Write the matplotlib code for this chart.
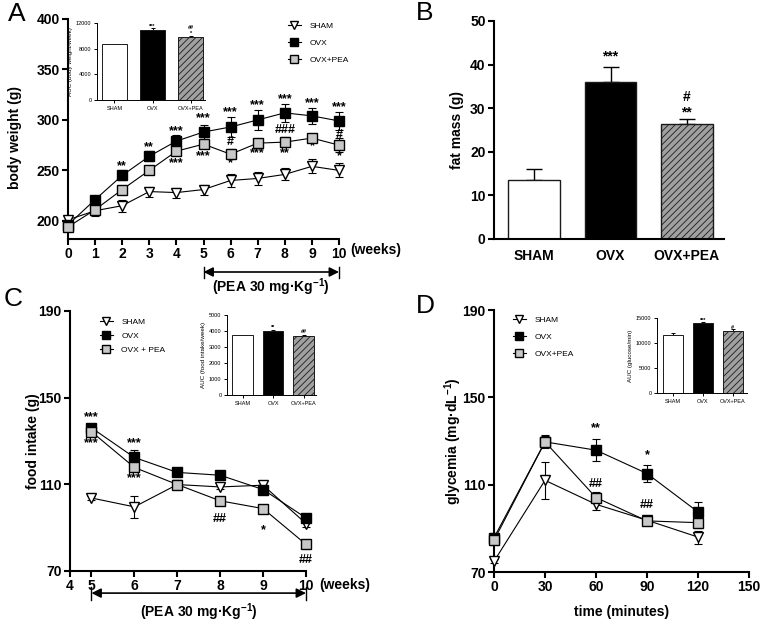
import matplotlib
matplotlib.use("Agg")
import matplotlib.pyplot as plt
from matplotlib.lines import Line2D
from matplotlib.transforms import blended_transform_factory

plt.rcParams['font.family'] = ['Liberation Sans', 'DejaVu Sans']
plt.rcParams['font.weight'] = 'bold'
plt.rcParams['axes.labelweight'] = 'bold'
plt.rcParams['mathtext.fontset'] = 'custom'
plt.rcParams['mathtext.bf'] = 'Liberation Sans:bold'
plt.rcParams['mathtext.rm'] = 'Liberation Sans:bold'
plt.rcParams['mathtext.default'] = 'bf'
plt.rcParams['hatch.linewidth'] = 0.6

groups = ["SHAM", "OVX", "OVX+PEA"]

# A: body weight
weeks_a = [0, 1, 2, 3, 4, 5, 6, 7, 8, 9, 10]
bw_sham = [201, 210, 215, 229, 228, 231, 240, 242, 246, 254, 250]
bw_sham_err = [4, 5, 6, 5, 5, 5, 6, 6, 6, 7, 7]
bw_ovx = [196, 221, 245, 264, 279, 288, 293, 300, 307, 304, 299]
bw_ovx_err = [3, 3, 5, 5, 6, 7, 10, 10, 9, 8, 9]
bw_pea = [194, 211, 231, 250, 269, 276, 266, 277, 278, 282, 275]
bw_pea_err = [3, 3, 3, 3, 3, 3, 5, 3, 5, 3, 7]
auc_bw = [8700, 10900, 9800]
auc_bw_err = [100, 250, 200]

# B: fat mass
fat = [13.5, 36.0, 26.3]
fat_err = [2.5, 3.4, 1.3]

# C: food intake
weeks_c = [5, 6, 7, 8, 9, 10]
fi_sham = [103.7, 99.6, 109.9, 108.8, 109.6, 91.9]
fi_sham_err = [0.8, 5.0, 1.0, 1.0, 2.0, 1.5]
fi_ovx = [136.1, 122.4, 115.5, 114.2, 107.6, 94.5]
fi_ovx_err = [1.5, 3.5, 1.5, 1.5, 1.5, 1.5]
fi_pea = [134.3, 117.8, 109.9, 102.4, 98.8, 82.3]
fi_pea_err = [1.5, 1.5, 1.5, 1.5, 1.0, 1.0]
auc_fi = [3730, 4000, 3690]
auc_fi_err = [30, 60, 30]

# D: glycemia
minutes = [0, 30, 60, 90, 120]
gl_sham = [74.9, 112.0, 101.0, 93.7, 86.0]
gl_sham_err = [1.0, 8.5, 2.5, 1.5, 3.0]
gl_ovx = [85.7, 129.6, 125.8, 115.1, 97.5]
gl_ovx_err = [2.0, 3.0, 5.0, 4.0, 4.5]
gl_pea = [84.5, 129.6, 104.1, 93.4, 92.6]
gl_pea_err = [2.0, 2.5, 2.5, 1.5, 2.5]
auc_gl = [11700, 14000, 12500]
auc_gl_err = [300, 250, 250]

# significance marks (x, y, text)
marks_a = [(2, 254, "**"), (3, 272.5, "**"), (4, 289, "***"), (5, 301.5, "***"),
           (6, 307.5, "***"), (7, 315, "***"), (8, 321, "***"), (9, 316.5, "***"),
           (10, 312.5, "***"),
           (4, 257, "***"), (5, 264.5, "***"), (6, 257, "*"), (7, 267, "***"),
           (8, 267.5, "**"), (9, 273.5, "*"), (10, 264.5, "*"),
           (6, 278.5, "#"), (8, 290, "###"), (10, 285, "#")]
marks_b = [(1, 41.8, "***"), (2, 32.6, "#"), (2, 29.0, "**")]
marks_c = [(5, 140.9, "***"), (5, 128.9, "***"), (6, 128.9, "***"), (6, 112.7, "***"),
           (8, 94.2, "##"), (9, 88.8, "*"), (10, 74.9, "##")]
marks_d = [(60, 135.7, "**"), (90, 123.5, "*"), (60, 110.5, "##"), (90, 100.6, "##")]
marks_ia = [(1, 11500, "***"), (2, 11350, "##"), (2, 10400, "*")]
marks_ic = [(1, 4250, "**"), (2, 3940, "##")]
marks_id = [(1, 14600, "***"), (2, 13100, "#")]

W, H = 762, 624
fig = plt.figure(figsize=(W / 100, H / 100), dpi=100)


def box(l, t, r, b):
    return [l / W, 1 - b / H, (r - l) / W, (b - t) / H]


def style(ax, lw=1.5, size=10, tl=4):
    for s in ['top', 'right']:
        ax.spines[s].set_visible(False)
    for s in ['left', 'bottom']:
        ax.spines[s].set_linewidth(lw)
    ax.tick_params(direction='out', length=tl, width=lw, labelsize=size, pad=2)


def curves(ax, x, ys, errs):
    kinds = [dict(marker='v', mfc='white'), dict(marker='s', mfc='black'),
             dict(marker='s', mfc='#c8c8c8')]
    for y, e, k in zip(ys, errs, kinds):
        ax.errorbar(x, y, yerr=e, color='black', mec='black', ms=6.5, lw=0.8,
                    elinewidth=0.8, capsize=3, capthick=0.8, clip_on=False, zorder=3, **k)


def legend(ax, labels, anchor, spacing):
    h = [Line2D([], [], color='black', lw=0.8, marker='v', mfc='white', mec='black', ms=6),
         Line2D([], [], color='black', lw=0.8, marker='s', mfc='black', mec='black', ms=6),
         Line2D([], [], color='black', lw=0.8, marker='s', mfc='#c8c8c8', mec='black', ms=6)]
    ax.legend(h, labels, loc='center left', bbox_to_anchor=anchor,
              bbox_transform=fig.transFigure, frameon=False, handlelength=1.6,
              handletextpad=1.0, labelspacing=spacing, prop={'size': 6, 'weight': 'normal'})


def bars(ax, vals, errs, lw=1.0, cap=3):
    pos = range(len(vals))
    ax.bar(pos, vals, width=0.68, color=['white', 'black', '#a0a0a0'],
           edgecolor='#1a1a1a', linewidth=lw, hatch=['', '', '/////'], zorder=2)
    ax.errorbar(pos, vals, yerr=[[0] * len(vals), errs], fmt='none', ecolor='black',
                elinewidth=lw, capsize=cap, capthick=lw, zorder=1)
    ax.set_xticks(list(pos))
    ax.set_xticklabels(groups)


def marks(ax, items, size=9):
    for x, y, t in items:
        ax.text(x, y, t, ha='center', va='center', fontsize=size, fontweight='bold',
                clip_on=False)


def inset(rect, vals, errs, top, step, ylab, items):
    ax = fig.add_axes(rect)
    bars(ax, vals, errs, lw=0.7, cap=1.5)
    style(ax, lw=0.7, size=4, tl=2)
    ax.set_ylim(0, top)
    ax.set_yticks(range(0, top + 1, step))
    for lab in ax.get_xticklabels() + ax.get_yticklabels():
        lab.set_fontweight('normal')
    ax.set_ylabel(ylab, fontsize=4.5, fontweight='normal', labelpad=2)
    marks(ax, items, size=4)
    return ax


def pea_arrow(ax, yf, ytext):
    tr = blended_transform_factory(ax.transData, ax.transAxes)
    ax.annotate('', xy=(10, yf), xytext=(5, yf), xycoords=tr, textcoords=tr,
                arrowprops=dict(arrowstyle='<|-|>', color='black', lw=1.2,
                                mutation_scale=14, shrinkA=0, shrinkB=0),
                annotation_clip=False)
    for x in (5, 10):
        ax.plot([x, x], [yf - 0.025, yf + 0.025], transform=tr, color='black',
                lw=1.0, clip_on=False)
    ax.text(7.5, ytext, '(PEA 30 mg·Kg$^{-1}$)', transform=tr, ha='center',
            va='center', fontsize=10)


# Panel A
axA = fig.add_axes(box(68, 19, 339, 239))
curves(axA, weeks_a, [bw_sham, bw_ovx, bw_pea], [bw_sham_err, bw_ovx_err, bw_pea_err])
style(axA)
axA.set_xlim(0, 10)
axA.set_ylim(182, 400)
axA.set_xticks(weeks_a)
axA.set_yticks([200, 250, 300, 350, 400])
axA.set_ylabel('body weight (g)', fontsize=10)
axA.yaxis.set_label_coords(-0.1715, 0.46)
marks(axA, marks_a)
axA.text(10.4, -0.05, '(weeks)', transform=blended_transform_factory(axA.transData, axA.transAxes),
         ha='left', va='center', fontsize=10)
pea_arrow(axA, -0.15, -0.218)
legend(axA, ["SHAM", "OVX", "OVX+PEA"], (280 / W, 1 - 43 / H), 1.05)
inset(box(97, 23, 205, 100), auc_bw, auc_bw_err, 12000, 4000,
      'AUC (body weight/week)', marks_ia).set_xlim(-0.46, 2.38)

# Panel B
axB = fig.add_axes(box(494, 21, 724, 239))
bars(axB, fat, fat_err, lw=1.0, cap=6)
style(axB)
axB.set_xlim(-0.53, 2.49)
axB.set_ylim(0, 50)
axB.set_yticks([0, 10, 20, 30, 40, 50])
axB.tick_params(axis='x', length=0, pad=7)
axB.set_ylabel('fat mass (g)', fontsize=10)
axB.yaxis.set_label_coords(-0.13, 0.5)
marks(axB, marks_b, size=10)

# Panel C
axC = fig.add_axes(box(70, 311, 306, 571))
curves(axC, weeks_c, [fi_sham, fi_ovx, fi_pea], [fi_sham_err, fi_ovx_err, fi_pea_err])
style(axC)
axC.set_xlim(4.5, 10)
axC.set_ylim(70, 190)
axC.set_xticks([4.5] + weeks_c)
axC.set_xticklabels(['4'] + [str(w) for w in weeks_c])
axC.set_yticks([70, 110, 150, 190])
axC.set_ylabel('food intake (g)', fontsize=10)
axC.yaxis.set_label_coords(-0.129, 0.5)
marks(axC, marks_c)
axC.text(10.3, -0.055, '(weeks)', transform=blended_transform_factory(axC.transData, axC.transAxes),
         ha='left', va='center', fontsize=10)
pea_arrow(axC, -0.085, -0.157)
legend(axC, ["SHAM", "OVX", "OVX + PEA"], (92 / W, 1 - 336 / H), 0.75)
inset(box(227, 315, 316, 395), auc_fi, auc_fi_err, 5000, 1000,
      'AUC (food intake/week)', marks_ic).set_xlim(-0.51, 2.41)

# Panel D
axD = fig.add_axes(box(494, 310, 749, 572))
curves(axD, minutes, [gl_sham, gl_ovx, gl_pea], [gl_sham_err, gl_ovx_err, gl_pea_err])
style(axD)
axD.set_xlim(0, 150)
axD.set_ylim(70, 190)
axD.set_xticks([0, 30, 60, 90, 120, 150])
axD.set_yticks([70, 110, 150, 190])
axD.set_ylabel('glycemia (mg·dL$^{-1}$)', fontsize=10)
axD.yaxis.set_label_coords(-0.116, 0.5)
axD.set_xlabel('time (minutes)', fontsize=10)
axD.xaxis.set_label_coords(0.5, -0.126)
marks(axD, marks_d)
legend(axD, ["SHAM", "OVX", "OVX+PEA"], (505 / W, 1 - 337 / H), 1.1)
inset(box(657, 318, 747, 393), auc_gl, auc_gl_err, 15000, 5000,
      'AUC (glucose/min)', marks_id).set_xlim(-0.53, 2.47)

# panel letters
for x, y, t in [(17, 14, 'A'), (425, 13, 'B'), (13, 299, 'C'), (425, 306, 'D')]:
    fig.text(x / W, 1 - y / H, t, ha='center', va='center', fontsize=19, fontweight='normal')

fig.savefig('out.png', dpi=100)
